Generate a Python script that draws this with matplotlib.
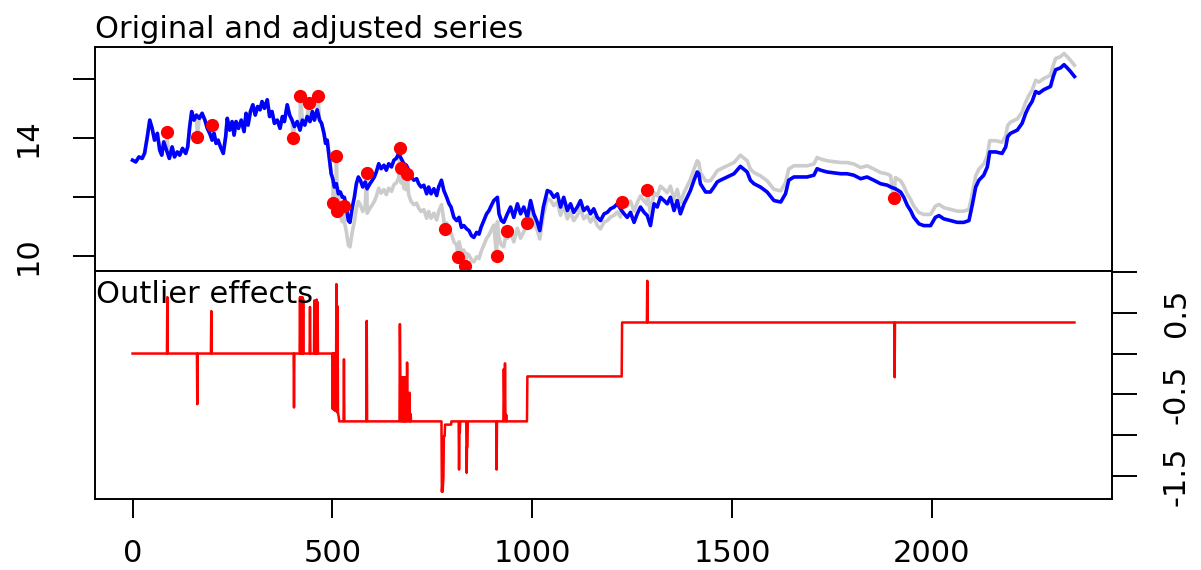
import numpy as np
import matplotlib.pyplot as plt

# adjusted series (blue line)
adj_t = [0, 8, 16, 24, 30, 37, 43, 49, 55, 62, 68, 73, 78, 85, 92, 99, 105, 112, 118, 125,
         133, 138, 143, 148, 154, 160, 167, 174, 181, 187, 193, 199, 204, 209, 214, 220, 227, 233, 237, 243,
         249, 254, 259, 265, 272, 279, 284, 289, 295, 301, 307, 313, 319, 324, 330, 337, 343, 349, 355, 362,
         369, 375, 380, 387, 393, 399, 405, 412, 419, 425, 431, 437, 444, 450, 455, 462, 468, 473, 479, 483,
         487, 490, 494, 497, 501, 505, 510, 515, 520, 525, 530, 535, 540, 544, 550, 555, 560, 565, 570, 576,
         582, 587, 594, 600, 605, 610, 616, 622, 629, 635, 641, 648, 654, 660, 666, 672, 679, 685, 691, 697,
         704, 711, 716, 722, 729, 736, 741, 747, 754, 761, 766, 773, 779, 786, 792, 797, 804, 811, 817, 823,
         829, 836, 842, 848, 854, 861, 867, 872, 879, 886, 892,
         896, 904, 913, 917, 923, 929, 938, 946, 954, 963, 971, 979, 988, 996, 1004, 1013, 1019, 1028, 1038, 1046,
         1054, 1063, 1071, 1079, 1088, 1096, 1104, 1113, 1121, 1129, 1138, 1146, 1154, 1163, 1171, 1180, 1188, 1196, 1205, 1213,
         1221, 1230, 1238, 1246, 1255, 1263, 1271, 1280, 1288, 1296, 1305, 1313, 1321, 1330, 1338, 1346, 1355, 1363, 1371, 1380,
         1388, 1396, 1405, 1413, 1417, 1421, 1426, 1434, 1446, 1455, 1463, 1471, 1488, 1505, 1521, 1538, 1546, 1555, 1571, 1588,
         1605, 1622, 1634, 1642, 1655, 1672, 1688, 1705, 1713, 1722, 1738, 1755, 1772, 1788, 1805, 1822, 1838, 1855, 1872,
         1889, 1897, 1909, 1922, 1930, 1939, 1947, 1955, 1968, 1980, 1997, 2009, 2018, 2030, 2047, 2064, 2080, 2093, 2101, 2110,
         2118, 2130, 2139, 2145, 2160, 2176, 2185, 2190, 2197, 2214, 2226, 2235, 2243, 2251, 2260, 2268, 2280, 2297, 2304, 2310,
         2322, 2331, 2339, 2347, 2357]
adj_v = [13.25, 13.19, 13.36, 13.31, 13.48, 14.05, 14.61, 14.33, 13.93, 14.16, 13.59, 13.42, 13.87, 13.59, 13.31, 13.70, 13.36, 13.53, 13.42, 13.65,
         13.48, 13.70, 14.39, 14.90, 14.61, 14.78, 14.67, 14.84, 14.61, 14.33, 14.16, 13.93, 14.16, 13.82, 13.93, 13.70, 13.48, 14.05, 14.67, 14.27,
         14.56, 14.10, 14.56, 14.33, 14.61, 14.22, 14.84, 14.44, 14.90, 15.13, 14.78, 15.07, 14.96, 15.24, 15.01, 15.30, 14.73, 14.90, 14.50, 14.61,
         14.33, 14.73, 14.56, 15.13, 14.78, 14.61, 14.39, 14.56, 14.27, 14.61, 14.44, 14.73, 14.56, 14.90, 14.61, 14.96, 14.61, 14.50, 14.16, 13.82,
         13.93, 13.59, 13.13, 12.79, 12.62, 12.34, 12.45, 12.11, 12.17, 11.99, 11.99, 11.66, 11.20, 11.14, 11.66, 11.99, 12.45, 12.68, 12.57, 12.34,
         12.51, 12.28, 12.45, 12.57, 12.68, 12.85, 13.13, 12.96, 13.08, 12.91, 13.13, 13.02, 13.25, 13.31, 13.48, 13.31, 13.13, 13.08, 12.91, 12.68,
         12.57, 12.62, 12.45, 12.34, 12.40, 12.11, 12.34, 12.11, 12.28, 12.05, 12.34, 12.57, 12.22, 11.99, 11.77, 11.66, 11.31, 11.20, 11.31, 10.97,
         11.03, 10.92, 10.86, 10.69, 10.63, 10.80, 10.74, 10.97, 11.20, 11.43, 11.54,
         11.66, 11.88, 11.99, 11.43, 11.20, 11.14, 11.43, 11.66, 11.31, 11.77, 11.43, 11.66, 11.31, 11.88, 11.43, 11.14, 10.86, 11.66, 12.22, 12.17,
         11.99, 12.11, 11.66, 11.99, 11.54, 11.77, 11.48, 11.66, 11.88, 11.54, 11.66, 11.43, 11.60, 11.31, 11.20, 11.43, 11.48, 11.60, 11.66, 11.77,
         11.60, 11.43, 11.31, 11.48, 11.14, 11.43, 11.66, 11.48, 11.37, 11.03, 11.77, 11.66, 11.99, 11.88, 11.77, 11.99, 11.54, 11.88, 11.43, 11.77,
         11.99, 12.22, 12.57, 12.85, 12.79, 12.45, 12.34, 12.17, 12.17, 12.34, 12.51, 12.57, 12.68, 12.79, 13.04, 12.85, 12.57, 12.45, 12.34, 12.17,
         11.88, 11.83, 12.11, 12.57, 12.68, 12.68, 12.68, 12.74, 12.96, 12.91, 12.85, 12.82, 12.79, 12.79, 12.74, 12.62, 12.68, 12.57, 12.45,
         12.40, 12.34, 12.28, 12.17, 11.99, 11.71, 11.54, 11.31, 11.09, 11.03, 11.03, 11.31, 11.37, 11.26, 11.20, 11.14, 11.14, 11.20, 11.71, 12.34,
         12.57, 12.74, 13.02, 13.53, 13.53, 13.48, 13.70, 14.05, 14.16, 14.27, 14.50, 14.84, 15.07, 15.24, 15.58, 15.52, 15.64, 15.75, 16.09, 16.32,
         16.38, 16.49, 16.38, 16.26, 16.09]

# original series at the detected outliers (red dots)
out_t = [85, 162, 198, 402, 420, 441, 464, 502, 510, 512, 529, 586, 669, 673, 687, 781, 815, 833,
         911, 936, 988, 1224, 1288, 1905]
out_v = [14.19, 14.04, 14.44, 13.99, 15.43, 15.20, 15.43, 11.80, 13.40, 11.54, 11.71, 12.82, 13.67, 12.99,
         12.79, 10.92, 9.95, 9.67, 10.00, 10.86, 11.13, 11.83, 12.23, 11.96]

# level part of the outlier effects: start index and level
ls_start = [0, 517, 779, 782, 798, 988, 1225]
ls_level = [0.0, -0.83, -1.01, -0.87, -0.83, -0.28, 0.38]

# one-point effects on top of the levels
spike_t = [87, 162, 197, 404, 419, 421, 423, 425, 427, 444, 455, 457, 459, 461, 463,
           501, 503, 505, 507, 508, 509, 510, 511, 512, 513, 514, 515, 516,
           529, 586, 669, 670, 672, 673, 675, 677, 678, 680, 682, 687, 693, 696,
           774, 775, 776, 777, 778, 817, 818, 819, 836, 837, 838,
           911, 929, 930, 932, 933, 935, 1288, 1907]
spike_v = [0.69, -0.62, 0.52, -0.66, 0.69, 0.69, 0.67, 0.69, 0.66, 0.57, 0.65, 0.63, 0.65, 0.66, 0.63,
           -0.68, -0.68, -0.69, -0.70, -0.30, -0.70, 0.85, -0.70, -0.72, 0.58, -0.72, -0.75, -0.78,
           -0.07, 0.40, 0.36, -0.29, -0.29, -0.29, -0.29, -0.29, -0.29, -0.29, -0.29, -0.11, -0.48, -0.74,
           -1.69, -1.62, -1.69, -1.58, -1.50, -1.42, -0.97, -0.97, -1.46, -1.14, -1.14,
           -1.42, -0.19, -0.50, -0.12, -0.75, -0.75, 0.89, -0.29]

n_obs = 2358


def level_at(t):
    idx = np.searchsorted(ls_start, t, side="right") - 1
    return np.asarray(ls_level)[idx]


# effects over the whole index
eff_t = np.arange(n_obs)
eff_v = level_at(eff_t)
eff_v[np.asarray(spike_t)] = spike_v

# original = adjusted + level effects, plus the outlier points themselves
adj_t_arr = np.asarray(adj_t)
orig_t = np.concatenate([adj_t_arr, out_t])
orig_v = np.concatenate([np.asarray(adj_v) + level_at(adj_t_arr), out_v])
order = np.argsort(orig_t, kind="stable")
orig_t, orig_v = orig_t[order], orig_v[order]

plt.rcParams["font.size"] = 22
W, H = 1201, 570
fig = plt.figure(figsize=(W / 100, H / 100), dpi=100)
ax1 = fig.add_axes([95 / W, 1 - 271 / H, 1017 / W, 224 / H])
ax2 = fig.add_axes([95 / W, 1 - 499 / H, 1017 / W, 228 / H])

ax1.plot(orig_t, orig_v, color="#cccccc", lw=2.6)
ax1.plot(adj_t, adj_v, color="#0000ff", lw=2.6)
ax1.plot(out_t, out_v, "o", color="#ff0000", ms=8.5, mec="#ff0000")

ax2.plot(eff_t, eff_v, color="#ff0000", lw=1.8)

for ax in (ax1, ax2):
    ax.set_xlim(-94, 2451)
    for s in ax.spines.values():
        s.set_linewidth(1.4)

ax1.set_ylim(9.49, 17.09)
ax2.set_ylim(-1.78, 1.01)

ax1.set_xticks([])
ax1.set_yticks([10, 12, 14, 16])
ax1.set_yticklabels(["10", "", "14", ""], rotation=90, va="center")
ax1.tick_params(axis="y", length=16, width=1.4, pad=22)

ax2.set_xticks([0, 500, 1000, 1500, 2000])
ax2.tick_params(axis="x", length=14, width=1.4, pad=15)
ax2.yaxis.tick_right()
ax2.set_yticks([-1.5, -1.0, -0.5, 0.0, 0.5, 1.0])
ax2.set_yticklabels(["-1.5", "", "-0.5", "", "0.5", ""], rotation=90, va="center")
ax2.tick_params(axis="y", length=18, width=1.4, pad=18)

ax1.annotate("Original and adjusted series", xy=(0, 1), xycoords="axes fraction",
             xytext=(0, 6.5), textcoords="offset points", ha="left", va="baseline")
ax2.annotate("Outlier effects", xy=(0, 1), xycoords="axes fraction",
             xytext=(1, -23), textcoords="offset points", ha="left", va="baseline")

fig.savefig("out.png", dpi=100)
